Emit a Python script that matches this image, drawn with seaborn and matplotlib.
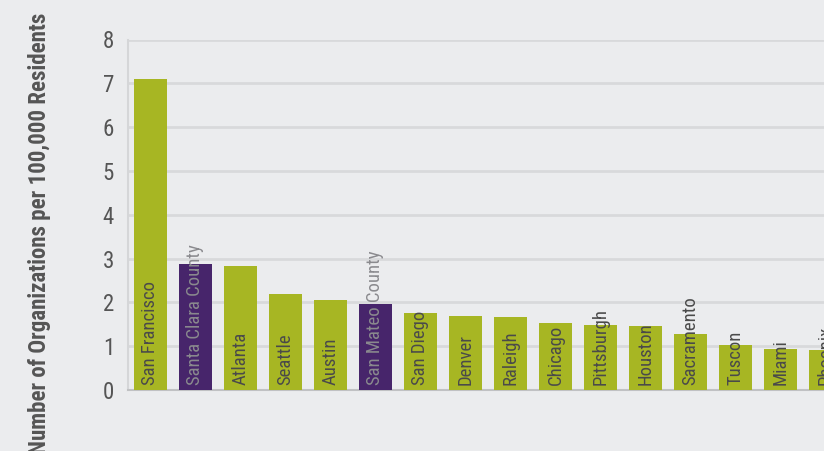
import matplotlib
matplotlib.use("Agg")
import matplotlib.pyplot as plt
from matplotlib import font_manager
import seaborn as sns
import pandas as pd

# data
cities = ["San Francisco", "Santa Clara County", "Atlanta", "Seattle", "Austin",
          "San Mateo County", "San Diego", "Denver", "Raleigh", "Chicago",
          "Pittsburgh", "Houston", "Sacramento", "Tuscon", "Miami", "Phoenix"]
values = [7.1, 2.88, 2.83, 2.19, 2.05, 1.96, 1.76, 1.69, 1.67, 1.53,
          1.48, 1.46, 1.28, 1.03, 0.94, 0.91]
groups = ["city", "county", "city", "city", "city", "county", "city", "city",
          "city", "city", "city", "city", "city", "city", "city", "city"]

bg = "#ebecee"
green = "#a7b623"
purple = "#47256b"

# pick a narrow font if one is around
names = {f.name for f in font_manager.fontManager.ttflist}
narrow = "DejaVu Sans"
for cand in ["Liberation Sans Narrow", "Roboto Condensed", "Open Sans Condensed",
             "Noto Sans Condensed", "DejaVu Sans Condensed"]:
    if cand in names:
        narrow = cand
        break

df = pd.DataFrame({"city": cities, "value": values, "group": groups})

sns.set_style("white")
plt.rcParams["font.family"] = [narrow, "DejaVu Sans"]
plt.rcParams["font.stretch"] = "condensed"

fig = plt.figure(figsize=(8.24, 4.51), dpi=100, facecolor=bg)
ax = fig.add_axes([128 / 824, 61 / 451, 696 / 824, 350.5 / 451])
ax.set_facecolor(bg)

sns.barplot(data=df, x="city", y="value", hue="group", dodge=False,
            palette={"city": green, "county": purple}, width=0.733,
            saturation=1, linewidth=0, legend=False, ax=ax, zorder=3)

ax.set_ylim(0, 8)
ax.set_xlim(-0.5, 14.97)
ax.set_yticks(range(0, 9))
ax.tick_params(axis="y", length=0, pad=10, labelsize=16.5, labelcolor="#555555")
ax.set_xticks([])
ax.set_xlabel("")
ax.set_ylabel("")
ax.yaxis.grid(True, color="#d8d9db", linewidth=2, zorder=0)
ax.set_axisbelow(True)

for s in ["top", "right"]:
    ax.spines[s].set_visible(False)
ax.spines["left"].set_color("#d5d6d8")
ax.spines["left"].set_linewidth(1.5)
ax.spines["bottom"].set_color("#c0c1c3")
ax.spines["bottom"].set_linewidth(1.5)

# labels inside bars
for i, (name, g) in enumerate(zip(cities, groups)):
    col = "#8a8a8e" if g == "county" else "#4a4a4a"
    ax.text(i, 0.11, name, rotation=90, ha="center", va="bottom",
            fontsize=13.5, color=col, zorder=5, clip_on=True)

fig.text(40 / 824, 1 - 13 / 451, "Number of Organizations per 100,000 Residents",
         rotation=90, ha="center", va="top", fontsize=16.5, fontweight="bold",
         color="#555555")

fig.savefig("out.png", dpi=100, facecolor=bg)
